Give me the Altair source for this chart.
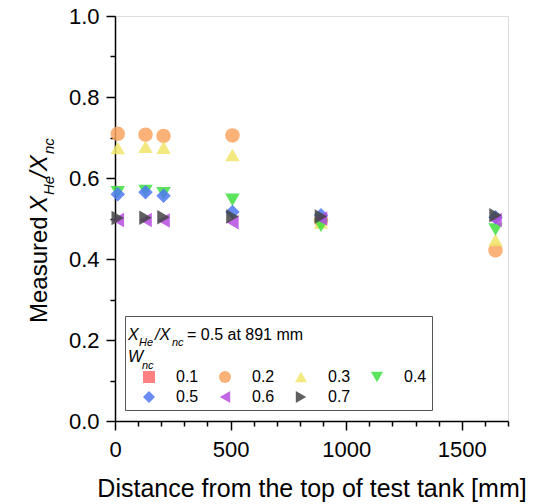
import altair as alt
import pandas as pd

FONT = "Liberation Sans"

# ---- data ----
distance = [12, 132, 210, 508, 891, 1646]
series_names = ["0.1", "0.2", "0.3", "0.4", "0.5", "0.6", "0.7"]
w02 = [0.709, 0.707, 0.704, 0.705, 0.495, 0.421]
w03 = [0.674, 0.677, 0.675, 0.657, 0.490, 0.447]
w04 = [0.565, 0.568, 0.562, 0.546, 0.482, 0.473]
w05 = [0.560, 0.565, 0.556, 0.516, 0.508, 0.503]
w06 = [0.496, 0.496, 0.495, 0.491, 0.500, 0.496]
w07 = [0.501, 0.502, 0.503, 0.505, 0.505, 0.508]
series_values = {"0.2": w02, "0.3": w03, "0.4": w04, "0.5": w05, "0.6": w06, "0.7": w07}

colors = ["#ff6b6b", "#f9a460", "#f2e46a", "#3fe040", "#4d78f2", "#b64ce2", "#444444"]
shapes = ["square", "circle", "triangle-up", "triangle-down", "diamond", "triangle-left", "triangle-right"]

x_major = [0, 500, 1000, 1500]
x_minor = [v for v in range(100, 1701, 100) if v % 500 != 0]
y_major = [0.0, 0.2, 0.4, 0.6, 0.8, 1.0]
y_minor = [0.1, 0.3, 0.5, 0.7, 0.9]

rows = []
for name in series_names:
    if name in series_values:
        for d, v in zip(distance, series_values[name]):
            rows.append({"dist": d, "val": v, "series": name})
df = pd.DataFrame(rows)

xscale = alt.Scale(domain=[0, 1700], nice=False, zero=False)
yscale = alt.Scale(domain=[0, 1], nice=False)

legend = alt.Legend(
    title=[" ", " "], orient="none", legendX=10, legendY=300,
    direction="horizontal", columns=4,
    strokeColor="#555555", padding=5,
    titleFontSize=16, titleLineHeight=27, titlePadding=5,
    symbolSize=145, symbolStrokeWidth=0, symbolOffset=11,
    labelFont=FONT, labelFontSize=16, labelColor="black", labelOffset=19,
    columnPadding=7, rowPadding=4,
)

points = alt.Chart(df).mark_point(filled=True, size=210, opacity=0.85).encode(
    x=alt.X("dist:Q", scale=xscale,
            axis=alt.Axis(values=x_major, format="d", orient="bottom", title="Distance from the top of test tank [mm]",
                          titleFont=FONT, titleFontSize=25, titleFontWeight="normal", titleColor="black",
                          titlePadding=16, labelFont=FONT, labelFontSize=22, labelColor="black",
                          labelPadding=9, labelFlush=False, tickSize=9, tickWidth=1.5, tickColor="black",
                          domainColor="black", domainWidth=1.5, grid=False)),
    y=alt.Y("val:Q", scale=yscale,
            axis=alt.Axis(values=y_major, format=".1f", orient="left", title=None,
                          labelFont=FONT, labelFontSize=22, labelColor="black", labelPadding=7,
                          labelFlush=False, tickSize=9, tickWidth=1.5, tickColor="black",
                          domainColor="black", domainWidth=1.5, grid=False)),
    color=alt.Color("series:N", scale=alt.Scale(domain=series_names, range=colors), legend=legend),
    shape=alt.Shape("series:N", scale=alt.Scale(domain=series_names, range=shapes), legend=legend),
)

minor = alt.Chart(df).mark_point(opacity=0).encode(
    x=alt.X("dist:Q", scale=xscale,
            axis=alt.Axis(values=x_minor, labels=False, domain=False, title=None, orient="bottom",
                          tickSize=5, tickWidth=1.5, tickColor="black", grid=False)),
    y=alt.Y("val:Q", scale=yscale,
            axis=alt.Axis(values=y_minor, labels=False, domain=False, title=None, orient="left",
                          tickSize=5, tickWidth=1.5, tickColor="black", grid=False)),
)


def txt(s, x, y, size, italic=False, angle=0):
    kw = dict(text=s, align="left", baseline="alphabetic", font=FONT, fontSize=size,
              fontStyle="italic" if italic else "normal", color="black")
    if angle:
        kw["angle"] = angle
    return alt.Chart(alt.Data(values=[{}])).mark_text(**kw).encode(x=alt.value(x), y=alt.value(y))


texts = [
    # y-axis title (rotated, with subscripts)
    txt("Measured", -68, 307, 24, angle=270),
    txt("X", -68, 196, 24, italic=True, angle=270),
    txt("He", -61, 179, 15, italic=True, angle=270),
    txt("/X", -68, 162, 24, italic=True, angle=270),
    txt("nc", -61, 138, 15, italic=True, angle=270),
    # legend title lines
    txt("X", 13, 324, 16, italic=True),
    txt("He", 24, 330, 11, italic=True),
    txt("/X", 40, 324, 16, italic=True),
    txt("nc", 57, 330, 11, italic=True),
    txt("= 0.5 at 891 mm", 72, 324, 16),
    txt("W", 13, 346, 16, italic=True),
    txt("nc", 27, 353, 11, italic=True),
]

chart = alt.layer(minor, points, *texts).resolve_axis(x="independent", y="independent").properties(
    width=393, height=405,
    autosize=alt.AutoSizeParams(type="none"),
    padding={"left": 115, "top": 16, "right": 28, "bottom": 83},
).configure_view(stroke="black", strokeWidth=1.5).configure(background="white")

chart.save("out.html", embed_options={"renderer": "svg", "actions": False})
